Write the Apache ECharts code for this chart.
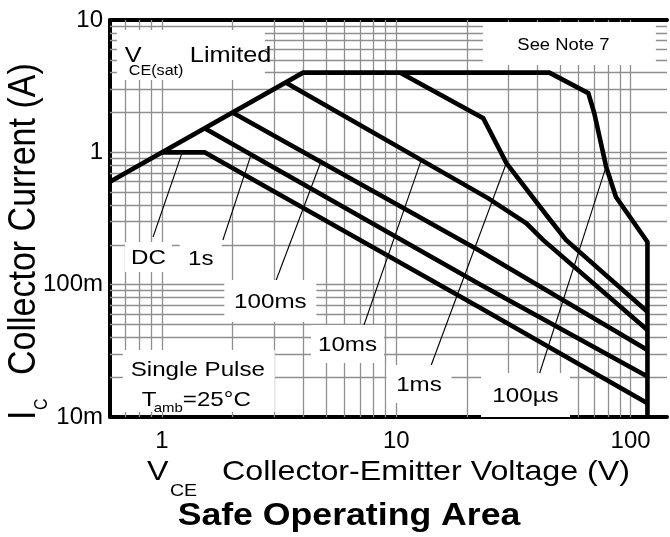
<!DOCTYPE html>
<html>
<head>
<meta charset="utf-8">
<script src="https://cdn.jsdelivr.net/npm/echarts@6/dist/echarts.min.js"></script>
<style>
html, body { margin: 0; padding: 0; background: #fff; }
#chart { width: 670px; height: 537px; }
</style>
</head>
<body>
<div id="chart"></div>
<script>
// ---------------- data ----------------
const xTickValues = [1, 10, 100];
const xTickLabels = ['1', '10', '100'];
const yTickValues = [0.01, 0.1, 1, 10];
const yTickLabels = ['10m', '100m', '1', '10'];
const xGridValues = [0.7, 0.8, 0.9, 1, 2, 3, 4, 5, 6, 7, 8, 9, 10, 20, 30, 40, 50, 60, 70, 80, 90, 100];
const yGridValues = [0.02, 0.03, 0.04, 0.05, 0.06, 0.07, 0.08, 0.09, 0.1, 0.2, 0.3, 0.4, 0.5, 0.6, 0.7, 0.8, 0.9, 1, 2, 3, 4, 5, 6, 7, 8, 9];

// SOA boundaries [V_CE (V), I_C (A)]
const curve100us = [[0.6, 0.6], [4, 4], [45, 4], [66, 2.8], [70, 1.97], [78.6, 0.78], [86.6, 0.46], [118, 0.21], [118, 0.01]];
const curve1ms = [[10.4, 4], [23.5, 1.81], [29.5, 0.83], [43.7, 0.336], [53, 0.218], [118, 0.0625]];
const curve10ms = [[3.4, 3.34], [24.7, 0.449], [35.9, 0.291], [42.3, 0.218], [118, 0.0455]];
const curve100ms = [[2, 2], [22.4, 0.183], [118, 0.0321]];
const curve1s = [[1.52, 1.52], [22.4, 0.102], [118, 0.0202]];
const curveDC = [[1, 1], [1.52, 1], [22.4, 0.068], [118, 0.0127]];

// leader lines from curve to its label
const leaderDC = [[1.22, 1.0], [0.916, 0.229]];
const leader1s = [[2.40, 0.96], [1.82, 0.2176]];
const leader100ms = [[4.78, 0.86], [3.05, 0.1047]];
const leader10ms = [[12.8, 0.88], [7.28, 0.0496]];
const leader1ms = [[29.5, 0.83], [14.1, 0.0247]];
const leader100us = [[78.6, 0.78], [40.9, 0.0214]];

// curve labels and their anchors [V, I]
const curveLabelTexts = ['DC', '1s', '100ms', '10ms', '1ms', '100µs'];
const curveLabelAnchors = [[0.876, 0.162], [1.464, 0.1576], [2.90, 0.0752], [6.19, 0.0356], [12.5, 0.01776], [35.6, 0.01466]];
const vceNoteAnchor = [1.328, 5.44];
const seeNoteAnchor = [54.8, 6.64];
const pulseNoteAnchor = [1.436, 0.0187];

// ---------------- chart ----------------
const FONT = '"Liberation Sans", Arial, Helvetica, sans-serif';
const X_MIN = 0.6, X_MAX = 143, Y_MIN = 0.01, Y_MAX = 10;
const SX = 1.15;

function tickFormatter(values, labels) {
  return function (v) {
    for (let k = 0; k < values.length; k++) {
      if (Math.abs(Math.log10(v) - Math.log10(values[k])) < 1e-6) return labels[k];
    }
    return '';
  };
}

const gridSegments = [];
xGridValues.forEach(v => gridSegments.push({ coords: [[v, Y_MIN], [v, Y_MAX]] }));
yGridValues.forEach(v => gridSegments.push({ coords: [[X_MIN, v], [X_MAX, v]] }));

const curves = [curve100us, curve1ms, curve10ms, curve100ms, curve1s, curveDC];
const leaders = [leaderDC, leader1s, leader100ms, leader10ms, leader1ms, leader100us];

const chart = echarts.init(document.getElementById('chart'), null, { renderer: 'canvas' });

const axisLineStyle = { show: true, onZero: false, lineStyle: { color: '#000', width: 4 } };

const option = {
  animation: false,
  backgroundColor: '#fff',
  grid: { left: 110, right: 0, top: 20, bottom: 120, containLabel: false },
  xAxis: [{
    type: 'log', logBase: 10, min: X_MIN, max: X_MAX,
    axisLine: axisLineStyle,
    axisTick: { show: false },
    splitLine: { show: false },
    axisLabel: {
      interval: 0, formatter: tickFormatter(xTickValues, xTickLabels),
      fontSize: 24, fontFamily: FONT, color: '#000', margin: 12,
      showMinLabel: true, showMaxLabel: true
    }
  }, {
    type: 'log', logBase: 10, min: X_MIN, max: X_MAX, position: 'top',
    axisLine: axisLineStyle,
    axisTick: { show: false },
    splitLine: { show: false },
    axisLabel: { show: false }
  }],
  yAxis: [{
    type: 'log', logBase: 10, min: Y_MIN, max: Y_MAX,
    axisLine: axisLineStyle,
    axisTick: { show: false },
    splitLine: { show: false },
    axisLabel: {
      interval: 0, formatter: tickFormatter(yTickValues, yTickLabels),
      fontSize: 24, fontFamily: FONT, color: '#000', margin: 7,
      showMinLabel: true, showMaxLabel: true
    }
  }],
  series: [
    {
      type: 'lines', coordinateSystem: 'cartesian2d', xAxisIndex: 0, yAxisIndex: 0,
      data: gridSegments, silent: true, z: 1,
      lineStyle: { color: '#8f8f8f', width: 1.3, opacity: 1, curveness: 0 }
    },
    {
      type: 'lines', coordinateSystem: 'cartesian2d', xAxisIndex: 0, yAxisIndex: 0,
      data: leaders.map(l => ({ coords: l })), silent: true, z: 3,
      lineStyle: { color: '#000', width: 1.1, opacity: 1, curveness: 0 }
    }
  ].concat(curves.map(d => ({
    type: 'line', xAxisIndex: 0, yAxisIndex: 0, data: d,
    showSymbol: false, symbol: 'none', silent: true, z: 5,
    lineStyle: { color: '#000', width: 4.6, join: 'miter' }
  })))
};

chart.setOption(option);

// ---------------- annotations ----------------
function toPx(d) { return chart.convertToPixel({ xAxisIndex: 0, yAxisIndex: 0 }, d); }
function textEl(x, y, text, size, opt) {
  opt = opt || {};
  return {
    type: 'text', x: x, y: y, scaleX: opt.sx === undefined ? SX : opt.sx, z: 101, silent: true,
    style: {
      text: text, fill: '#000',
      font: (opt.bold ? 'bold ' : '') + size + 'px ' + FONT,
      textAlign: opt.align || 'center', textVerticalAlign: 'middle'
    }
  };
}
function boxEl(cx, cy, w, h) {
  return { type: 'rect', z: 100, silent: true, shape: { x: cx - w / 2, y: cy - h / 2, width: w, height: h }, style: { fill: '#fff' } };
}

const boxSizes = [[47, 30], [42, 33], [92, 42], [73, 38], [65, 38], [89, 44]];
const graphics = [];

curveLabelTexts.forEach((t, k) => {
  const p = toPx(curveLabelAnchors[k]);
  graphics.push(boxEl(p[0], p[1], boxSizes[k][0], boxSizes[k][1]));
  graphics.push(textEl(p[0], p[1] + 1, t, 21));
});

// VCE(sat) Limited
(function () {
  const p = toPx(vceNoteAnchor);
  graphics.push(boxEl(p[0], p[1], 148, 50));
  graphics.push(textEl(p[0] - 66, p[1] + 1, 'V', 22, { align: 'left' }));
  graphics.push(textEl(p[0] - 62, p[1] + 16, 'CE(sat)', 14, { align: 'left' }));
  graphics.push(textEl(p[0] - 1, p[1] + 1, 'Limited', 22, { align: 'left' }));
})();

// See Note 7
(function () {
  const p = toPx(seeNoteAnchor);
  graphics.push(boxEl(p[0], p[1], 173, 43));
  graphics.push(textEl(p[0] - 6, p[1] + 2, 'See Note 7', 16));
})();

// Single Pulse / Tamb
(function () {
  const p = toPx(pulseNoteAnchor);
  graphics.push(boxEl(p[0], p[1], 152, 62));
  graphics.push(textEl(p[0] - 1, p[1] - 11, 'Single Pulse', 21));
  graphics.push(textEl(p[0] - 57, p[1] + 19, 'T', 21, { align: 'left' }));
  graphics.push(textEl(p[0] - 45, p[1] + 27, 'amb', 13, { align: 'left' }));
  graphics.push(textEl(p[0] - 16, p[1] + 19, '=25°C', 21, { align: 'left' }));
})();

// axis titles and chart title
graphics.push({
  type: 'group', x: 24, y: 420, rotation: Math.PI / 2, scaleY: SX, silent: true,
  children: [
    textEl(0, 0, 'I', 34, { align: 'left', sx: 1 }),
    textEl(10, 16, 'C', 16, { align: 'left', sx: 1 }),
    textEl(45, 0, 'Collector Current (A)', 34, { align: 'left', sx: 1 })
  ]
});
graphics.push(textEl(147, 472, 'V', 28, { align: 'left' }));
graphics.push(textEl(170, 491, 'CE', 17, { align: 'left' }));
graphics.push(textEl(222, 472, 'Collector-Emitter Voltage (V)', 28, { align: 'left' }));
graphics.push(textEl(349, 516, 'Safe Operating Area', 31, { bold: true }));

chart.setOption({ graphic: graphics });
</script>
</body>
</html>
